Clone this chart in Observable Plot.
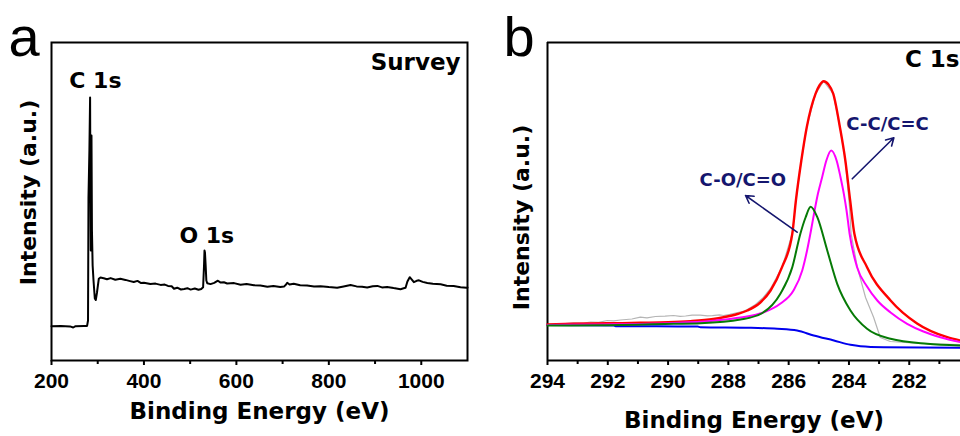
<!DOCTYPE html>
<html><head><meta charset="utf-8">
<script src="https://cdn.jsdelivr.net/npm/d3@7"></script>
<script src="https://cdn.jsdelivr.net/npm/@observablehq/plot@0.6"></script>
<style>
html,body{margin:0;padding:0;background:#fff;overflow:hidden;}
#wrap{position:relative;width:960px;height:436px;}
#pa{position:absolute;left:0;top:0;}
#pb{position:absolute;left:480px;top:0;}
</style></head><body><div id="wrap"><div id="pa"></div><div id="pb"></div></div>
<script>
// ---------- Panel a: survey spectrum ----------
const surveyEnergy = [200,220,240,247,252,270,277,279,280,282,283.5,284.3,285,285.8,286.5,287.5,289,290.9,293.7,295.8,298.4,302.3,306,313,320,328,338,349,360,370,378,386,393,400,414,425,436,445,452,460,465,472,480,487,494,501,510,518,524,528,530,531,532,533.5,535,537,544,552,560,566,573,580,595,609,622,638,652,667,680,695,703,707,710,715,724,738,753,768,782,800,818,832,847,860,872,883,895,905,915,926,940,955,962,966,970,975,980,984,990,995,1003,1013,1025,1042,1055,1070,1085,1098,1100];
const surveyIntensity = [34.3,34.6,34.1,33.0,34.3,34.5,34.6,40,163,210,263,160,110,215,225,130,95,80,62,60.5,68,81.7,83,82.3,81.2,82.4,80.8,81.7,80.6,79.4,78.5,79.6,77.6,77.8,76.4,76.9,75.6,75.9,74.6,74.2,71.7,72.8,71.0,71.6,72.3,70.9,72.0,70.7,71.5,73.2,95,110,108,95,80,77.3,76.4,77.6,79.8,77.9,78.3,77.0,77.4,75.8,76.4,75.2,75.0,73.8,74.6,73.5,73.9,75.7,77.7,76.0,76.8,75.3,74.9,74.0,74.3,73.4,72.7,74.0,75.5,74.1,73.8,73.0,74.3,74.6,73.1,73.6,72.4,71.3,72.2,72.7,79,83.3,80.6,78.3,79.7,80.2,78.6,77.5,76.8,76.2,74.8,74.5,73.3,72.7,72.9];
const xDomainA = [200, 1100];
const majorTicksA = [200, 400, 600, 800, 1000];
const minorTicksA = [300, 500, 700, 900];
const peakLabelsA = ["C 1s", "O 1s"];
const peakLabelEnergyA = [295, 536];
const peakLabelIntensityA = [288, 133];

// ---------- Panel b: C 1s high resolution ----------
const rawE = [294,293.6,293.14,292.8,292.57,292.3,292.02,291.8,291.58,291.2,290.92,290.7,290.42,290.1,289.82,289.6,289.42,289.2,288.93,288.7,288.53,288.3,288.16,287.95,287.76,287.55,287.37,287.1,286.84,286.6,286.22,285.88,285.76,285.58,285.4,285.11,284.84,284.52,284.3,284.12,283.98,283.93,283.72,283.45,283.18,282.96,282.63,281.64,280.3];
const rawI = [36,36.5,37.7,37.4,38.5,38.2,40,39.6,40.5,41.5,43.3,42.6,44,44.4,45,44.2,44.5,45.4,45.3,44.6,44.8,45.6,45,46.2,47.5,48.8,51,56,63,72,93.3,126.7,160,200,233.3,266.7,279.3,266.7,233.3,200,153,127,93,63,43,23,19,17,16];
const envE = [294,293.14,292,290.92,290,289.26,288.5,288.16,287.7,287.37,286.94,286.6,286.22,285.88,285.76,285.58,285.4,285.11,284.98,284.84,284.68,284.52,284.3,284.12,283.96,283.82,283.4,282.62,281.74,280.74,280.3];
const envI = [36,36.7,37.2,37.7,38.2,39.3,41.5,43.3,46.5,50,58,70,93.3,126.7,160,200,233.3,266.7,275,279.3,276,266.7,233.3,200,160,126.7,93.3,60,37,23.3,20];
const ccE = [294,292.24,289.82,288.59,287.6,286.84,286.27,285.84,285.55,285.39,285.26,285.14,285.03,284.89,284.75,284.59,284.41,284.28,284.17,284.08,283.98,283.73,283.4,283.06,282.62,282.07,281.53,280.97,280.3];
const ccI = [35.5,36,37.5,39.5,43,48,57,70,90,110,130,150,166.7,183.3,200,210,200,183.3,166.7,150,127,93.3,74,60,48,36.7,29,23.3,18.3];
const coE = [294,292.24,289.82,288.93,287.6,286.9,286.27,285.88,285.61,285.44,285.27,285.05,284.72,284.39,283.95,283.4,282.62,281.41,280.3];
const coI = [35,35.2,36.7,37.3,41,47,67,93.3,127,143,153.7,143.3,110,76.7,50,31.7,21.7,16.7,15];
const bgE = [294,291.8,291.74,289.02,288.93,287.27,286.38,285.72,285.17,284.5,283.95,283.62,282.85,280.3];
const bgI = [35.5,35,34.3,34,33.3,32.7,31.7,30,25,20,15.7,14.3,13.3,12.7];
const xDomainB = [294, 280.3];
const majorTicksB = [294, 292, 290, 288, 286, 284, 282];
const minorTicksB = [293, 291, 289, 287, 285, 283, 281];
const bondLabels = ["C-O/C=O", "C-C/C=C"];
const bondLabelE = [287.52, 282.72];
const bondLabelI = [180, 236.7];
const arrowTailE = [285.72, 283.89];
const arrowTailI = [128.3, 181.7];
const arrowHeadE = [287.43, 282.51];
const arrowHeadI = [165, 222.7];

const yDomain = [0, 318];

const tickFont = "'Liberation Sans', Arial, sans-serif";
const titleFont = "'DejaVu Sans', Verdana, sans-serif";
const letterFont = "'Liberation Sans', Arial, sans-serif";
const navy = "#15166e";

const pts = (E, I) => E.map((e, i) => ({e, v: I[i]}));
const plainNum = d => String(d);

const plotA = Plot.plot({
  width: 480, height: 436,
  marginLeft: 51, marginRight: 13, marginTop: 42, marginBottom: 76,
  x: {domain: xDomainA},
  y: {domain: yDomain, axis: null},
  style: {background: "white", color: "black", fontFamily: tickFont},
  marks: [
    Plot.frame({stroke: "black", strokeWidth: 2}),
    Plot.line(pts(surveyEnergy, surveyIntensity), {x: "e", y: "v", stroke: "black", strokeWidth: 2, curve: "linear"}),
    Plot.axisX({ticks: majorTicksA, tickFormat: plainNum, tickSize: 5, tickPadding: 8, strokeWidth: 2, fontSize: 21, fontWeight: "bold", fontFamily: tickFont, label: null, anchor: "bottom"}),
    Plot.axisX({ticks: minorTicksA, tickSize: 4, strokeWidth: 2, tickFormat: () => "", label: null, anchor: "bottom"}),
    Plot.text(peakLabelsA, {x: peakLabelEnergyA, y: peakLabelIntensityA, lineAnchor: "top", textAnchor: "middle", fontSize: 22, fontWeight: "bold", fontFamily: titleFont, fill: "black"}),
    Plot.text(["Survey"], {frameAnchor: "top-right", dx: -7, dy: 11, lineAnchor: "top", textAnchor: "end", fontSize: 23, fontWeight: "bold", fontFamily: titleFont, fill: "black"}),
    Plot.text(["Binding Energy (eV)"], {frameAnchor: "bottom", dy: 42, lineAnchor: "top", textAnchor: "middle", fontSize: 23, fontWeight: "bold", fontFamily: titleFont, fill: "black"}),
    Plot.text(["Intensity (a.u.)"], {frameAnchor: "left", dx: -23, dy: -9, rotate: -90, lineAnchor: "middle", textAnchor: "middle", fontSize: 22, fontWeight: "bold", fontFamily: titleFont, fill: "black"}),
    Plot.text(["a"], {frameAnchor: "top-left", dx: -43, dy: 13, lineAnchor: "bottom", textAnchor: "start", fontSize: 56, fontFamily: letterFont, fill: "black"})
  ]
});
document.getElementById("pa").appendChild(plotA);

const plotB = Plot.plot({
  width: 480, height: 436,
  marginLeft: 67, marginRight: 0, marginTop: 42, marginBottom: 76,
  x: {domain: xDomainB},
  y: {domain: yDomain, axis: null},
  style: {background: "white", color: "black", fontFamily: tickFont},
  marks: [
    Plot.ruleX([xDomainB[0]], {stroke: "black", strokeWidth: 2}),
    Plot.ruleY(yDomain, {stroke: "black", strokeWidth: 2}),
    Plot.line(pts(rawE, rawI), {x: "e", y: "v", stroke: "#b5b5b5", strokeWidth: 1.2, curve: "linear"}),
    Plot.line(pts(bgE, bgI), {x: "e", y: "v", stroke: "#0000ee", strokeWidth: 2, curve: "monotone-x"}),
    Plot.line(pts(envE, envI), {x: "e", y: "v", stroke: "#ff0000", strokeWidth: 2.4, curve: "monotone-x"}),
    Plot.line(pts(ccE, ccI), {x: "e", y: "v", stroke: "#ff00ff", strokeWidth: 2, curve: "monotone-x"}),
    Plot.line(pts(coE, coI), {x: "e", y: "v", stroke: "#067a06", strokeWidth: 2, curve: "monotone-x"}),
    Plot.arrow(bondLabels, {x1: arrowTailE, y1: arrowTailI, x2: arrowHeadE, y2: arrowHeadI, stroke: navy, strokeWidth: 1.6, headLength: 8}),
    Plot.text(bondLabels, {x: bondLabelE, y: bondLabelI, lineAnchor: "middle", textAnchor: "middle", fontSize: 18, fontWeight: "bold", fontFamily: titleFont, fill: navy}),
    Plot.axisX({ticks: majorTicksB, tickFormat: plainNum, tickSize: 5, tickPadding: 8, strokeWidth: 2, fontSize: 21, fontWeight: "bold", fontFamily: tickFont, label: null, anchor: "bottom"}),
    Plot.axisX({ticks: minorTicksB, tickSize: 4, strokeWidth: 2, tickFormat: () => "", label: null, anchor: "bottom"}),
    Plot.text(["C 1s"], {frameAnchor: "top-right", dx: -1, dy: 8, lineAnchor: "top", textAnchor: "end", fontSize: 23, fontWeight: "bold", fontFamily: titleFont, fill: "black"}),
    Plot.text(["Binding Energy (eV)"], {frameAnchor: "bottom", dy: 51, lineAnchor: "top", textAnchor: "middle", fontSize: 23, fontWeight: "bold", fontFamily: titleFont, fill: "black"}),
    Plot.text(["Intensity (a.u.)"], {frameAnchor: "left", dx: -26, dy: 16, rotate: -90, lineAnchor: "middle", textAnchor: "middle", fontSize: 22, fontWeight: "bold", fontFamily: titleFont, fill: "black"}),
    Plot.text(["b"], {frameAnchor: "top-left", dx: -44, dy: 13, lineAnchor: "bottom", textAnchor: "start", fontSize: 56, fontFamily: letterFont, fill: "black"})
  ]
});
document.getElementById("pb").appendChild(plotB);
</script>
</body></html>
